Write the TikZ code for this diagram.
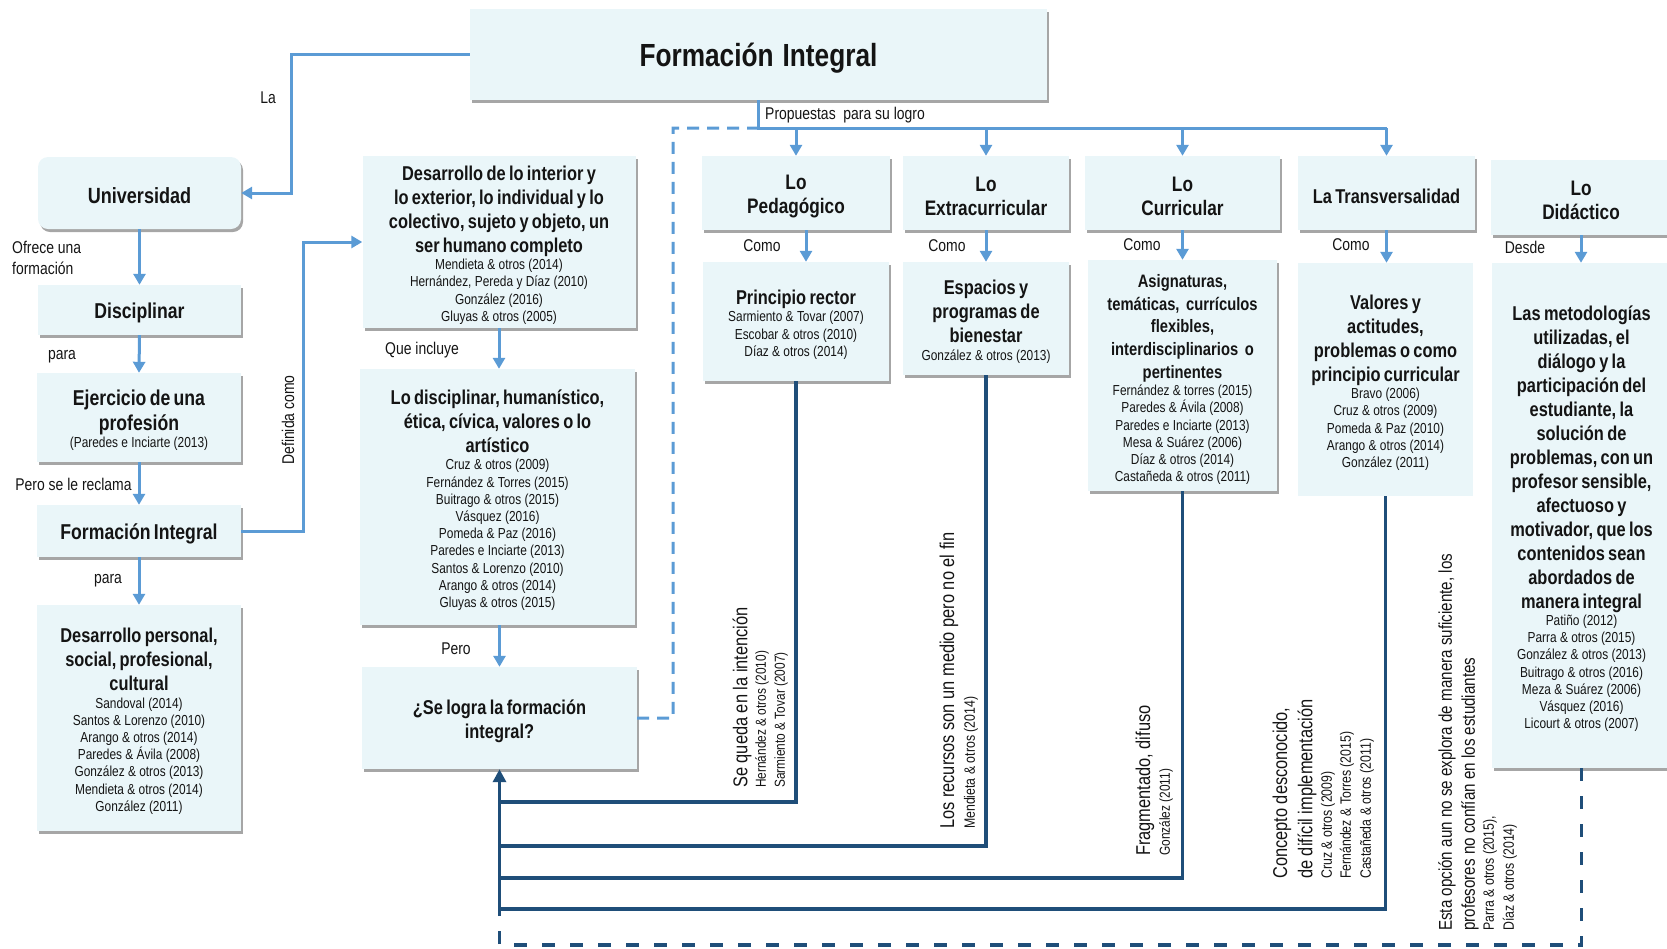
\documentclass[tikz,border=0pt]{standalone}
\usepackage{fontspec}
\setmainfont{Liberation Sans}[FakeStretch=0.82]
\usetikzlibrary{arrows.meta,shadows}

\definecolor{boxfill}{RGB}{234,246,249}
\definecolor{lblue}{RGB}{91,155,213}
\definecolor{dblue}{RGB}{31,78,121}
\definecolor{txt}{RGB}{20,20,20}

\newcommand{\titletxt}{\fontsize{32}{38}\selectfont\bfseries}
\newcommand{\headtxt}{\fontsize{21}{24}\selectfont\bfseries}
\newcommand{\boxtxt}{\fontsize{20}{24}\selectfont\bfseries}
\newcommand{\astxt}{\fontsize{18}{22.8}\selectfont\bfseries}
\newcommand{\citetxt}{\fontsize{14.5}{17.2}\selectfont\mdseries}
\newcommand{\labtxt}{\fontsize{17}{21}\selectfont}
\newcommand{\rotmain}{\fontsize{20}{24}\selectfont}
\newcommand{\rotcit}{\fontsize{14.5}{17}\selectfont}
\newcommand{\rotcitb}{\fontsize{15}{18}\selectfont}
\newcommand{\rotfive}{\fontsize{18.5}{22}\selectfont}
\newcommand{\boxstrut}{\rule{0pt}{21pt}}

\tikzset{
  bxbase/.style={rectangle, fill=boxfill, inner sep=0pt, align=center, text=txt,
    execute at begin node={\setlength{\parindent}{0pt}}},
  bx/.style={bxbase, drop shadow={shadow xshift=2pt, shadow yshift=-3pt, fill=black, opacity=0.35}},
  lb/.style={draw=lblue, line width=3pt},
  lbarrow/.style={lb, -{Triangle[width=12pt,length=11pt]}},
  lbdash/.style={lb, dash pattern=on 12pt off 8pt},
  dk/.style={draw=dblue, line width=3.5pt},
  dkarrow/.style={dk, -{Triangle[width=13pt,length=13pt]}},
  dkdash/.style={dk, dash pattern=on 13pt off 15pt},
  lab/.style={inner sep=0pt, text=txt, font=\labtxt},
  rot/.style={rotate=90, anchor=west, inner sep=0pt, text=txt}
}

\begin{document}
\begin{tikzpicture}[x=1pt, y=-1pt]
\useasboundingbox (0,0) rectangle (1667,948);

% ---------- boxes ----------
\node[bx, minimum width=577, minimum height=91, text width=570] (T) at (758.5,54.5) {{\titletxt\rule{0pt}{31.5pt}Formación\hspace{9pt}Integral\par}};

\node[bx, rounded corners=10pt, minimum width=203, minimum height=72, text width=198] (U) at (139.5,193) {{\fontsize{22}{26}\selectfont\bfseries\boxstrut Universidad\par}};
\node[bx, minimum width=203, minimum height=50, text width=198] (D) at (139.5,310) {{\fontsize{21.5}{26}\selectfont\bfseries\boxstrut Disciplinar\par}};
\node[bx, minimum width=204, minimum height=89, text width=198] (E) at (139,417.5)
  {{\fontsize{21.5}{25}\selectfont\bfseries\boxstrut Ejercicio de una\\profesión\par}{\citetxt (Paredes e Inciarte (2013)\par}};
\node[bx, minimum width=204, minimum height=52, text width=198] (F) at (139,531) {{\fontsize{21.5}{26}\selectfont\bfseries\boxstrut Formación Integral\par}};
\node[bx, minimum width=204, minimum height=226, text width=198] (P) at (139,718)
  {{\boxtxt\boxstrut Desarrollo personal,\\social, profesional,\\cultural\par}
   {\citetxt Sandoval (2014)\\Santos \& Lorenzo (2010)\\Arango \& otros (2014)\\Paredes \& Ávila (2008)\\González \& otros (2013)\\Mendieta \& otros (2014)\\González (2011)\par}};

\node[bx, minimum width=273, minimum height=172, text width=268] (DI) at (499,242)
  {{\boxtxt\boxstrut Desarrollo de lo interior y\\lo exterior, lo individual y lo\\colectivo, sujeto y objeto, un\\ser humano completo\par}
   {\citetxt Mendieta \& otros (2014)\\Hernández, Pereda y Díaz (2010)\\González (2016)\\Gluyas \& otros (2005)\par}};
\node[bx, minimum width=275, minimum height=256, text width=270] (LD) at (497.5,497)
  {{\boxtxt\boxstrut Lo disciplinar, humanístico,\\ética, cívica, valores o lo\\artístico\par}
   {\citetxt Cruz \& otros (2009)\\Fernández \& Torres (2015)\\Buitrago \& otros (2015)\\Vásquez (2016)\\Pomeda \& Paz (2016)\\Paredes e Inciarte (2013)\\Santos \& Lorenzo (2010)\\Arango \& otros (2014)\\Gluyas \& otros (2015)\par}};
\node[bx, minimum width=275, minimum height=102, text width=270] (SL) at (499.5,718)
  {{\boxtxt\boxstrut ¿Se logra la formación\\integral?\par}};

\node[bx, minimum width=188, minimum height=74, text width=184] (LP) at (796,193) {{\headtxt\boxstrut Lo\\Pedagógico\par}};
\node[bx, minimum width=186, minimum height=119, text width=182] (PR) at (796,321.5)
  {{\boxtxt\boxstrut Principio rector\par}{\citetxt Sarmiento \& Tovar (2007)\\Escobar \& otros (2010)\\Díaz \& otros (2014)\par}};

\node[bx, minimum width=166, minimum height=74, text width=162] (LE) at (986,193) {{\headtxt\boxstrut Lo\\Extracurricular\par}};
\node[bx, minimum width=166, minimum height=113, text width=162] (EP) at (986,318.5)
  {{\boxtxt\boxstrut Espacios y\\programas de\\bienestar\par}{\citetxt González \& otros (2013)\par}};

\node[bx, minimum width=195, minimum height=74, text width=190] (LC) at (1182.5,193) {{\headtxt\boxstrut Lo\\Curricular\par}};
\node[bx, minimum width=189, minimum height=231, text width=185] (AS) at (1182.5,375.5)
  {{\astxt\boxstrut Asignaturas,\\temáticas,\ \ currículos\\flexibles,\\interdisciplinarios\ \ o\\pertinentes\par}
   {\citetxt Fernández \& torres (2015)\\Paredes \& Ávila (2008)\\Paredes e Inciarte (2013)\\Mesa \& Suárez (2006)\\Díaz \& otros (2014)\\Castañeda \& otros (2011)\par}};

\node[bx, minimum width=177, minimum height=74, text width=173] (LT) at (1386.5,193) {{\fontsize{20}{24}\selectfont\bfseries\boxstrut La Transversalidad\par}};
\node[bxbase, minimum width=175, minimum height=233, text width=171] (VA) at (1385.5,379.5)
  {{\boxtxt\boxstrut Valores y\\actitudes,\\problemas o como\\principio curricular\par}
   {\citetxt Bravo (2006)\\Cruz \& otros (2009)\\Pomeda \& Paz (2010)\\Arango \& otros (2014)\\González (2011)\par}};

\node[bx, minimum width=180, minimum height=75, text width=176] (LDi) at (1581,197.5) {{\headtxt\boxstrut Lo\\Didáctico\par}};
\node[bx, minimum width=179, minimum height=505, text width=175] (ME) at (1581.5,515.5)
  {{\boxtxt\boxstrut Las metodologías\\utilizadas, el\\diálogo y la\\participación del\\estudiante, la\\solución de\\problemas, con un\\profesor sensible,\\afectuoso y\\motivador, que los\\contenidos sean\\abordados de\\manera integral\par}
   {\citetxt Patiño (2012)\\Parra \& otros (2015)\\González \& otros (2013)\\Buitrago \& otros (2016)\\Meza \& Suárez (2006)\\Vásquez (2016)\\Licourt \& otros (2007)\par}};

% ---------- labels ----------
\node[lab] (la) at (268,98) {La};
\node[lab, align=left, anchor=west] (ofr) at (12,257.5) {Ofrece una\\formación};
\node[lab] (para1) at (62,357) {para};
\node[lab] (pero1) at (73.5,484) {Pero se le reclama};
\node[lab, rotate=90] (def) at (288,420) {Definida como};
\node[lab] (para2) at (108,581) {para};
\node[lab] (que) at (422,350) {Que incluye};
\node[lab] (pero2) at (456,649) {Pero};
\node[lab, anchor=west] (prop) at (765,115) {Propuestas\ \ para su logro};
\node[lab] (como1) at (762,246) {Como};
\node[lab] (como2) at (947,246) {Como};
\node[lab] (como3) at (1142,245) {Como};
\node[lab] (como4) at (1351,245) {Como};
\node[lab] (desde) at (1525,247) {Desde};

% rotated labels
\node[rot, font=\rotmain] (r1a) at (742,788) {Se queda en la intención};
\node[rot, font=\rotcit] (r1b) at (762,788) {Hernández \& otros (2010)};
\node[rot, font=\rotcit] (r1c) at (781,788) {Sarmiento \& Tovar (2007)};
\node[rot, font=\rotmain] (r2a) at (949,829) {Los recursos son un medio pero no el fin};
\node[rot, font=\rotcitb] (r2b) at (971,829) {Mendieta \& otros (2014)};
\node[rot, font=\rotmain] (r3a) at (1145,856) {Fragmentado, difuso};
\node[rot, font=\rotcit] (r3b) at (1166,856) {González (2011)};
\node[rot, font=\rotmain] (r4a) at (1282,879) {Concepto desconocido,};
\node[rot, font=\rotmain] (r4b) at (1307,879) {de difícil implementación};
\node[rot, font=\rotcitb] (r4c) at (1328,879) {Cruz \& otros (2009)};
\node[rot, font=\rotcitb] (r4d) at (1347,879) {Fernández \& Torres (2015)};
\node[rot, font=\rotcitb] (r4e) at (1367,879) {Castañeda \& otros (2011)};
\node[rot, font=\rotfive] (r5a) at (1447,931) {Esta opción aun no se explora de manera suficiente, los};
\node[rot, font=\rotfive] (r5b) at (1470,931) {profesores no confían en los estudiantes};
\node[rot, font=\rotcitb] (r5c) at (1490,931) {Parra \& otros (2015),};
\node[rot, font=\rotcitb] (r5d) at (1510,931) {Díaz \& otros (2014)};

% ---------- light-blue connectors ----------
\path (T.south) ++(0,28) coordinate (hub);
\draw[lb] (T.south) -- (hub) -- (hub -| LT.north);
\draw[lbarrow] (hub -| LP.north) -- (LP.north);
\draw[lbarrow] (hub -| LE.north) -- (LE.north);
\draw[lbarrow] (hub -| LC.north) -- (LC.north);
\draw[lbarrow] (hub -| LT.north) -- (LT.north);

\draw[lbarrow] (T.west) -- ++(-178,0) |- (U.east);
\draw[lbarrow] (U.south) -- (D.north);
\draw[lbarrow] (D.south) -- (E.north);
\draw[lbarrow] (E.south) -- (F.north);
\draw[lbarrow] (F.south) -- (P.north);
\draw[lbarrow] (F.east) -- ++(62,0) |- (DI.west);
\draw[lbarrow] (DI.south) -- (DI.south |- LD.north);
\draw[lbarrow] (SL.north |- LD.south) -- (SL.north);

\draw[lbarrow] ([xshift=10pt]LP.south) -- ([xshift=10pt]PR.north);
\draw[lbarrow] (LE.south) -- (EP.north);
\draw[lbarrow] (LC.south) -- (AS.north);
\draw[lbarrow] (LT.south) -- (LT.south |- VA.north);
\draw[lbarrow] (LDi.south) -- (LDi.south |- ME.north);

\coordinate (d1) at (673,128);
\draw[lbdash] (SL.east) -| (d1) -- (hub);

% ---------- dark connectors ----------
\path (SL.south) ++(0,33) coordinate (j1);
\path (SL.south) ++(0,77) coordinate (j2);
\path (SL.south) ++(0,109) coordinate (j3);
\path (SL.south) ++(0,140) coordinate (j4);
\path (SL.south) ++(0,176) coordinate (j5);
\draw[dkdash] (ME.south) |- (j5) -- (j4);
\draw[dk] (PR.south) |- (j1);
\draw[dk] (EP.south) |- (j2);
\draw[dk] (AS.south) |- (j3);
\draw[dk] (VA.south) |- (j4);
\draw[dkarrow] (j4) -- (SL.south);
\end{tikzpicture}
\end{document}
